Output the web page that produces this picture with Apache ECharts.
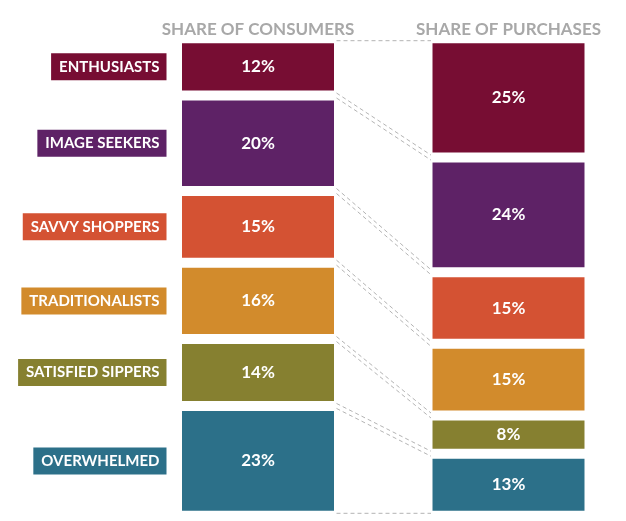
<!DOCTYPE html>
<html>
<head>
<meta charset="utf-8">
<script src="https://cdn.jsdelivr.net/npm/echarts@6/dist/echarts.min.js"></script>
<style>html,body{margin:0;padding:0;background:#fff}#c{width:626px;height:521px}</style>
</head>
<body>
<div id="c"></div>
<script>
var columns = ['SHARE OF CONSUMERS', 'SHARE OF PURCHASES'];
var segments = ['ENTHUSIASTS', 'IMAGE SEEKERS', 'SAVVY SHOPPERS', 'TRADITIONALISTS', 'SATISFIED SIPPERS', 'OVERWHELMED'];
var consumers = [12, 20, 15, 16, 14, 23];
var purchases = [25, 24, 15, 15, 8, 13];
var colors = ['#770d33', '#5e2266', '#d45233', '#d28b2c', '#868030', '#2c7089'];

var FONT = 'Lato, "Open Sans", sans-serif';
var BAR_W = 162, BORDER = 5, HALF_VIS = (BAR_W - BORDER) / 2 - 1, G = BORDER / 2;

function cum(arr) { var out = [0]; for (var i = 0; i < arr.length; i++) out.push(out[i] + arr[i]); return out; }
var cumC = cum(consumers), cumP = cum(purchases);

var series = segments.map(function (name, i) {
  return {
    name: name, type: 'bar', stack: 'all', barWidth: BAR_W,
    data: [consumers[i], purchases[i]],
    itemStyle: { color: colors[i], borderColor: '#fff', borderWidth: BORDER },
    label: { show: true, position: 'inside', formatter: '{c}%', color: '#fff', fontSize: 17, fontWeight: 'bold', fontFamily: FONT },
    emphasis: { disabled: true }, animation: false
  };
});

series.push({
  type: 'custom', z: 5, animation: false, silent: true,
  data: segments.map(function (s, i) { return [columns[0], i]; }),
  encode: { x: 0, y: 1 },
  renderItem: function (params, api) {
    var i = params.dataIndex;
    var xl = api.coord([columns[0], 0])[0] + HALF_VIS;
    var xr = api.coord([columns[1], 0])[0] - HALF_VIS;
    var xLeftCol = api.coord([columns[0], 0])[0] - HALF_VIS;
    var lTop = api.coord([columns[0], cumC[i]])[1] + G;
    var lBot = api.coord([columns[0], cumC[i + 1]])[1] - G;
    var rTop = api.coord([columns[1], cumP[i]])[1] + G;
    var rBot = api.coord([columns[1], cumP[i + 1]])[1] - G;
    var ls = { stroke: '#b3b3b3', lineWidth: 1, lineDash: [4, 3] };
    return {
      type: 'group',
      children: [
        { type: 'line', shape: { x1: xl + 1, y1: lTop, x2: xr, y2: rTop }, style: ls },
        { type: 'line', shape: { x1: xl + 1, y1: lBot, x2: xr, y2: rBot }, style: ls },
        {
          type: 'text',
          style: {
            text: segments[i], x: xLeftCol - 14, y: (lTop + lBot) / 2,
            align: 'right', verticalAlign: 'middle',
            fill: '#fff', font: 'bold 15px ' + FONT, lineHeight: 15,
            backgroundColor: colors[i], padding: [6, 7, 6, 8]
          }
        }
      ]
    };
  }
});

var chart = echarts.init(document.getElementById('c'));
chart.setOption({
  animation: false,
  grid: { left: 132.75, width: 501, top: 38.2, bottom: 5.2, outerBoundsMode: 'none', containLabel: false },
  xAxis: {
    type: 'category', data: columns, position: 'top',
    axisLine: { show: false }, axisTick: { show: false },
    axisLabel: { interval: 0, hideOverlap: false, color: '#a8a8a8', fontSize: 17, fontWeight: 'bold', fontFamily: FONT, margin: 0 }
  },
  yAxis: { type: 'value', min: 0, max: 100, inverse: true, show: false, splitLine: { show: false } },
  series: series
});
</script>
</body>
</html>
